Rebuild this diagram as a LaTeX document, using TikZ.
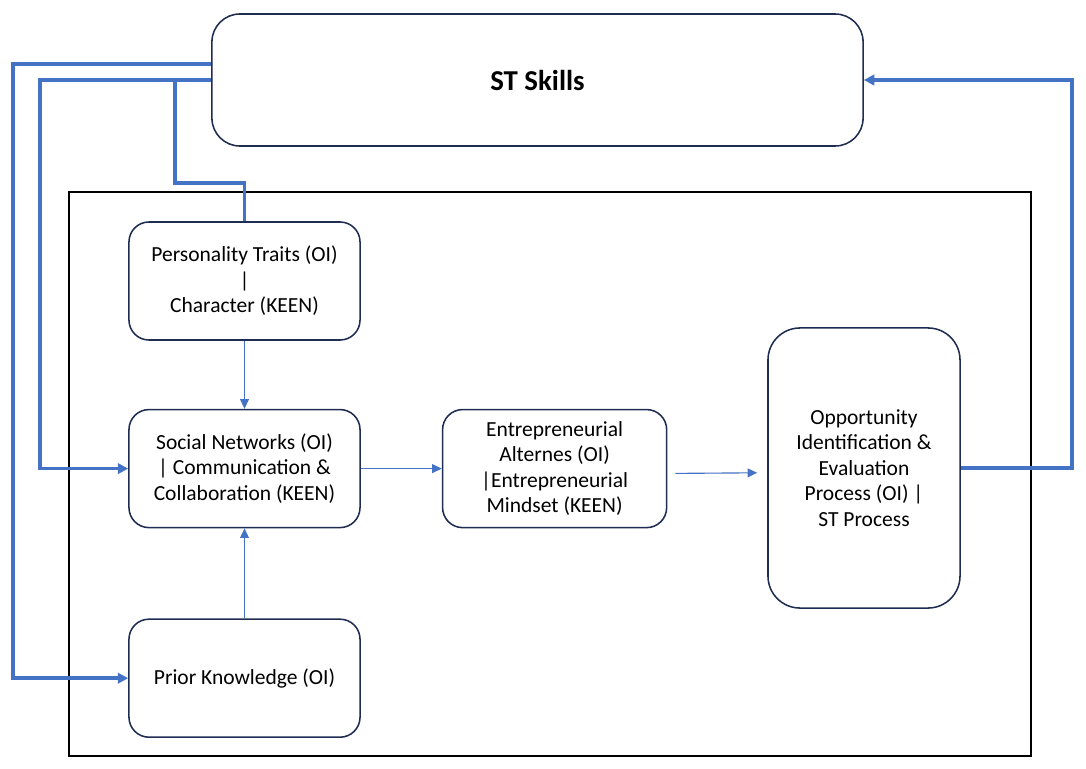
\documentclass[tikz,border=0pt]{standalone}
\usepackage{fontspec}
\setmainfont{Carlito}
\usetikzlibrary{positioning,arrows.meta}
\definecolor{lineblue}{HTML}{4472C4}
\definecolor{boxnavy}{HTML}{1F2D52}

\begin{document}
\begin{tikzpicture}[x=0.025cm,y=-0.025cm,node distance=1.7cm and 2.025cm,
  box/.style={draw=boxnavy,line width=1.1pt,rounded corners=5mm,align=center,
    minimum width=5.775cm,minimum height=2.95cm,
    font=\fontsize{15.3}{18.2}\selectfont},
  arr/.style={-{Triangle[length=2.4mm,width=2.2mm]},lineblue,line width=0.8pt},
  fb/.style={lineblue,line width=2.5pt},
  fbarr/.style={fb,-{Triangle[length=2.6mm,width=2.6mm]}}]
  \useasboundingbox (0,0) rectangle (1086,769);
  \draw[line width=1.9pt] (69,192) rectangle (1031,756);
  \node[box,rounded corners=7mm,minimum width=16.275cm,minimum height=3.3cm,
    font=\fontsize{20.5}{24}\selectfont\bfseries] (st) at (537.5,80) {ST Skills};
  \node[box] (traits) at (244.5,281) {Personality Traits (OI)\\|\\Character (KEEN)};
  \node[box,below=of traits] (social) {Social Networks (OI)\\| Communication \&\\Collaboration (KEEN)};
  \node[box,below=2.25cm of social] (prior) {Prior Knowledge (OI)};
  \node[box,right=of social,minimum width=5.6cm] (mindset) {Entrepreneurial\\Alternes (OI)\\|Entrepreneurial\\Mindset (KEEN)};
  \node[box,rounded corners=8mm,minimum width=4.8cm,minimum height=7cm] (oie) at (864,468)
    {Opportunity\\Identification \&\\Evaluation\\Process (OI) |\\ST Process};
  % feedback lines from ST Skills
  \draw[fbarr] ([yshift=4mm]st.west) -- ++(-4.95cm,0) |- (prior.west);
  \draw[fbarr] (st.west) -- ++(-4.275cm,0) |- (social.west);
  \draw[fb] ([xshift=-9mm]st.west) |- ([yshift=9.5mm]traits.north) -- (traits.north);
  \draw[fbarr] (oie.east) -- ++(2.775cm,0) |- (st.east);
  % inner flow
  \draw[arr] (traits) -- (social);
  \draw[arr] (prior) -- (social);
  \draw[arr] (social) -- (mindset);
  \draw[arr] ([shift={(2mm,-1.2mm)}]mindset.east) -- ([shift={(-2.5mm,-1.2mm)}]oie.west);
\end{tikzpicture}
\end{document}
